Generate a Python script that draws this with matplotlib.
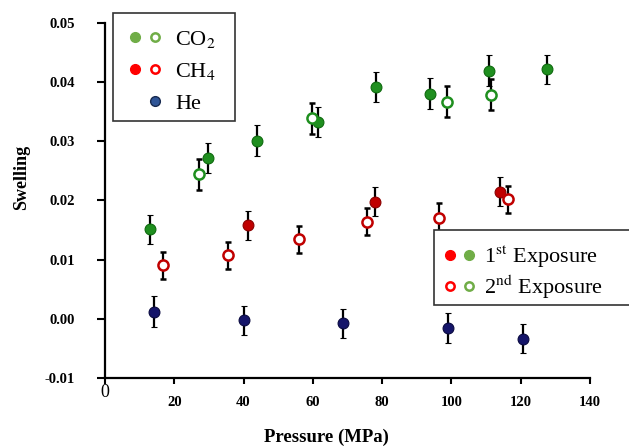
import matplotlib
matplotlib.use("Agg")
import matplotlib.pyplot as plt
from matplotlib.lines import Line2D
from matplotlib.legend_handler import HandlerTuple
from matplotlib.patches import Rectangle

plt.rcParams["font.family"] = ["Liberation Serif", "DejaVu Serif"]
plt.rcParams["mathtext.fontset"] = "stix"

# ---- swelling data (pressure in MPa) ----
co2_p1 = [13.0, 29.8, 43.8, 61.5, 78.1, 93.9, 110.8, 127.7]
co2_s1 = [0.0151, 0.0272, 0.0301, 0.0333, 0.0392, 0.0381, 0.0420, 0.0422]
co2_e1 = [0.0025, 0.0026, 0.0026, 0.0025, 0.0026, 0.0026, 0.0026, 0.0025]

co2_p2 = [27.1, 59.7, 98.8, 111.5]
co2_s2 = [0.0244, 0.0339, 0.0367, 0.0379]
co2_e2 = [0.0026, 0.0026, 0.0026, 0.0026]

ch4_p1 = [41.3, 77.9, 114.0]
ch4_s1 = [0.0158, 0.0198, 0.0215]
ch4_e1 = [0.0025, 0.0025, 0.0025]

ch4_p2 = [16.7, 35.5, 56.1, 75.7, 96.4, 116.3]
ch4_s2 = [0.0090, 0.0107, 0.0134, 0.0164, 0.0170, 0.0202]
ch4_e2 = [0.0023, 0.0023, 0.0023, 0.0023, 0.0025, 0.0023]

he_p = [14.1, 40.1, 68.7, 99.0, 120.7]
he_s = [0.0012, -0.0003, -0.0008, -0.0016, -0.0034]
he_e = [0.0026, 0.0025, 0.0025, 0.0025, 0.0025]

y_ticks = [-0.01, 0.00, 0.01, 0.02, 0.03, 0.04, 0.05]
y_tick_labels = ["-0.01", "0.00", "0.01", "0.02", "0.03", "0.04", "0.05"]
x_ticks = [0, 20, 40, 60, 80, 100, 120, 140]
x_tick_labels = ["", "20", "40", "60", "80", "100", "120", "140"]

# ---- colours ----
CO2_C, CO2_E = "#1f8f1f", "#0e6a0e"
CH4_C, CH4_E = "#c00000", "#8a0000"
HE_C, HE_E = "#15156a", "#0a0a40"
LEG_G, LEG_R = "#70ad47", "#ff0000"
LEG_B, LEG_BE = "#2f5597", "#172a50"

fig = plt.figure(figsize=(6.29, 4.48), dpi=100)
ax = fig.add_axes([0.1669, 0.157, 0.7711, 0.791])

eb = dict(ls="none", ecolor="black", elinewidth=1.6, capsize=2.5, capthick=1.6, zorder=3)
ms = 7.8

ax.errorbar(co2_p1, co2_s1, yerr=co2_e1, marker="o", ms=ms, mfc=CO2_C, mec=CO2_E, mew=0.8, **eb)
ax.errorbar(co2_p2, co2_s2, yerr=co2_e2, marker="o", ms=ms - 0.5, mfc="white", mec=CO2_C, mew=1.8, **eb)
ax.errorbar(ch4_p1, ch4_s1, yerr=ch4_e1, marker="o", ms=ms, mfc=CH4_C, mec=CH4_E, mew=0.8, **eb)
ax.errorbar(ch4_p2, ch4_s2, yerr=ch4_e2, marker="o", ms=ms - 0.5, mfc="white", mec=CH4_C, mew=1.8, **eb)
ax.errorbar(he_p, he_s, yerr=he_e, marker="o", ms=ms, mfc=HE_C, mec=HE_E, mew=0.8, **eb)

# ---- axes styling ----
ax.set_xlim(0, 140)
ax.set_ylim(-0.01, 0.05)
for side in ("top", "right"):
    ax.spines[side].set_visible(False)
for side in ("left", "bottom"):
    ax.spines[side].set_linewidth(1.6)
    ax.spines[side].set_color("black")

ax.set_yticks(y_ticks, y_tick_labels, fontweight="bold", fontsize=10.5)
ax.set_xticks(x_ticks, x_tick_labels, fontweight="bold", fontsize=10.5)
ax.tick_params(axis="y", direction="out", length=5.5, width=1.5, pad=16)
ax.tick_params(axis="x", direction="out", length=4, width=1.5, pad=9)

ax.annotate("0", xy=(0, -0.01), xytext=(0, -11), textcoords="offset points",
            ha="center", va="center", fontsize=13, annotation_clip=False)

ax.set_ylabel("Swelling", fontweight="bold", fontsize=13, va="center")
ax.yaxis.set_label_coords(-0.171, 0.566)
ax.set_xlabel("Pressure (MPa)", fontweight="bold", fontsize=13.5, va="center")
ax.xaxis.set_label_coords(0.4557, -0.168)

# ---- legends ----
def dot(color, edge=None, filled=True, size=7):
    if filled:
        return Line2D([], [], ls="", marker="o", ms=size, mfc=color, mec=edge or color, mew=1.0)
    return Line2D([], [], ls="", marker="o", ms=size - 1, mfc="white", mec=color, mew=1.8)

blank = Line2D([], [], ls="", marker=None)
tuple_handler = {tuple: HandlerTuple(ndivide=None, pad=0)}

gas_handles = [(dot(LEG_G), dot(LEG_G, filled=False)),
               (dot(LEG_R), dot(LEG_R, filled=False)),
               (blank, dot(LEG_B, LEG_BE))]
gas_labels = ["CO$_2$", "CH$_4$", "He"]

leg1 = ax.legend(gas_handles, gas_labels, handler_map=tuple_handler,
                 loc="upper left", bbox_to_anchor=(125 / 629, 1 - 29 / 448),
                 bbox_transform=fig.transFigure, frameon=False, fontsize=16,
                 handlelength=1.8, handletextpad=0.45, labelspacing=0.5,
                 borderpad=0, borderaxespad=0)
ax.add_artist(leg1)

exp_handles = [(dot(LEG_R), dot(LEG_G)),
               (dot(LEG_R, filled=False), dot(LEG_G, filled=False))]
exp_labels = ["1$^{\\rm st}$ Exposure", "2$^{\\rm nd}$ Exposure"]
leg2 = ax.legend(exp_handles, exp_labels, handler_map=tuple_handler,
                 loc="upper left", bbox_to_anchor=(441 / 629, 1 - 244 / 448),
                 bbox_transform=fig.transFigure, frameon=False, fontsize=16,
                 handlelength=1.65, handletextpad=0.3, labelspacing=0.12,
                 borderpad=0, borderaxespad=0)

# legend boxes
ax.add_patch(Rectangle((113 / 629, 1 - 121 / 448), 122 / 629, 108 / 448,
                       transform=fig.transFigure, clip_on=False,
                       facecolor="white", edgecolor="#333333", lw=1.2, zorder=4))
ax.add_patch(Rectangle((434 / 629, 1 - 305 / 448), 200 / 629, 75 / 448,
                       transform=fig.transFigure, clip_on=False,
                       facecolor="white", edgecolor="#333333", lw=1.2, zorder=4))

fig.savefig("out.png", dpi=100)
